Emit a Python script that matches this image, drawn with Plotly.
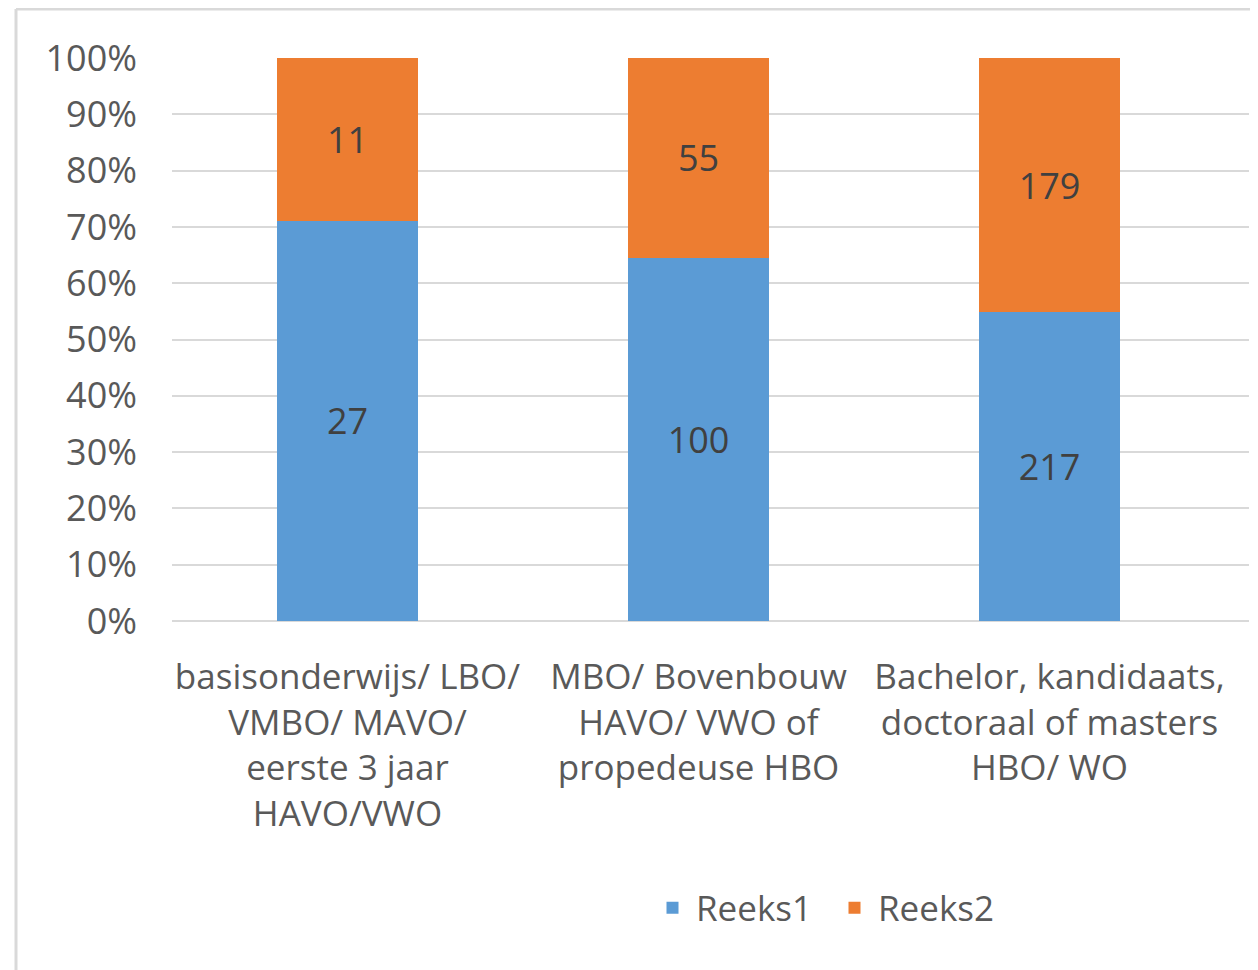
import plotly.graph_objects as go

categories = [
    "basisonderwijs/ LBO/<br>VMBO/ MAVO/<br>eerste 3 jaar<br>HAVO/VWO",
    "MBO/ Bovenbouw<br>HAVO/ VWO of<br>propedeuse HBO",
    "Bachelor, kandidaats,<br>doctoraal of masters<br>HBO/ WO",
]
reeks1 = [27, 100, 217]
reeks2 = [11, 55, 179]
series_names = ["Reeks1", "Reeks2"]
y_ticks = [0, 10, 20, 30, 40, 50, 60, 70, 80, 90, 100]
y_ticktext = [f"{v}%" for v in y_ticks]

# page body has an 8px margin: the figure starts at (8, 8)
OFF = 8
W, H = 1258 - OFF, 970 - OFF
PL, PR, PT, PB = 172, 1249, 58, 621  # plot area in page pixels
L, R, T, B = PL - OFF, (1258 - PR), PT - OFF, H - (PB - OFF)
FONT = "Open Sans"
TXT = "#595959"
NUM = 36
LBL = 35

fig = go.Figure()
for vals, name, color in [(reeks1, series_names[0], "#5B9BD5"), (reeks2, series_names[1], "#ED7D31")]:
    fig.add_trace(go.Bar(
        x=list(range(len(categories))), y=vals, name=name,
        marker=dict(color=color, line=dict(width=0)),
        text=[str(v) for v in vals], textposition="inside", insidetextanchor="middle",
        textfont=dict(family=FONT, size=NUM, color="#404040"), width=0.4,
        constraintext="none",
    ))

pw = W - L - R
ph = H - T - B
def px_x(p):
    return (p - OFF - L) / pw
def px_y(p):
    return (H - B - (p - OFF)) / ph

fig.update_layout(
    width=W, height=H,
    margin=dict(l=L, r=R, t=T, b=B, autoexpand=False),
    barmode="stack", barnorm="percent",
    paper_bgcolor="white", plot_bgcolor="white",
    font=dict(family=FONT, size=LBL, color=TXT),
    showlegend=True,
    legend=dict(orientation="h", x=px_x(649), xanchor="left", y=px_y(908), yanchor="middle",
                font=dict(family=FONT, size=LBL, color=TXT), traceorder="normal",
                itemwidth=37, entrywidth=130, bgcolor="rgba(0,0,0,0)"),
    xaxis=dict(
        tickmode="array", tickvals=list(range(len(categories))), ticktext=categories,
        range=[-0.5, 2.5 + (1249 - 1225) / 351], showgrid=False, zeroline=False,
        showline=False, ticks="", tickangle=0,
        tickfont=dict(family=FONT, size=LBL, color=TXT),
        ticklabelstandoff=32,
    ),
    yaxis=dict(
        range=[0, 100], tickmode="array", tickvals=y_ticks, ticktext=y_ticktext,
        showgrid=True, gridcolor="#D9D9D9", gridwidth=2,
        zeroline=True, zerolinecolor="#D9D9D9", zerolinewidth=2,
        showline=False, ticks="",
        tickfont=dict(family=FONT, size=NUM, color=TXT),
        ticklabelstandoff=34,
    ),
    shapes=[
        dict(type="line", xref="paper", yref="paper", x0=px_x(16), x1=px_x(1262), y0=px_y(9), y1=px_y(9),
             line=dict(color="#D9D9D9", width=3)),
        dict(type="line", xref="paper", yref="paper", x0=px_x(16), x1=px_x(16), y0=px_y(9), y1=px_y(975),
             line=dict(color="#D9D9D9", width=3)),
    ],
)

fig.write_html("out.html")
